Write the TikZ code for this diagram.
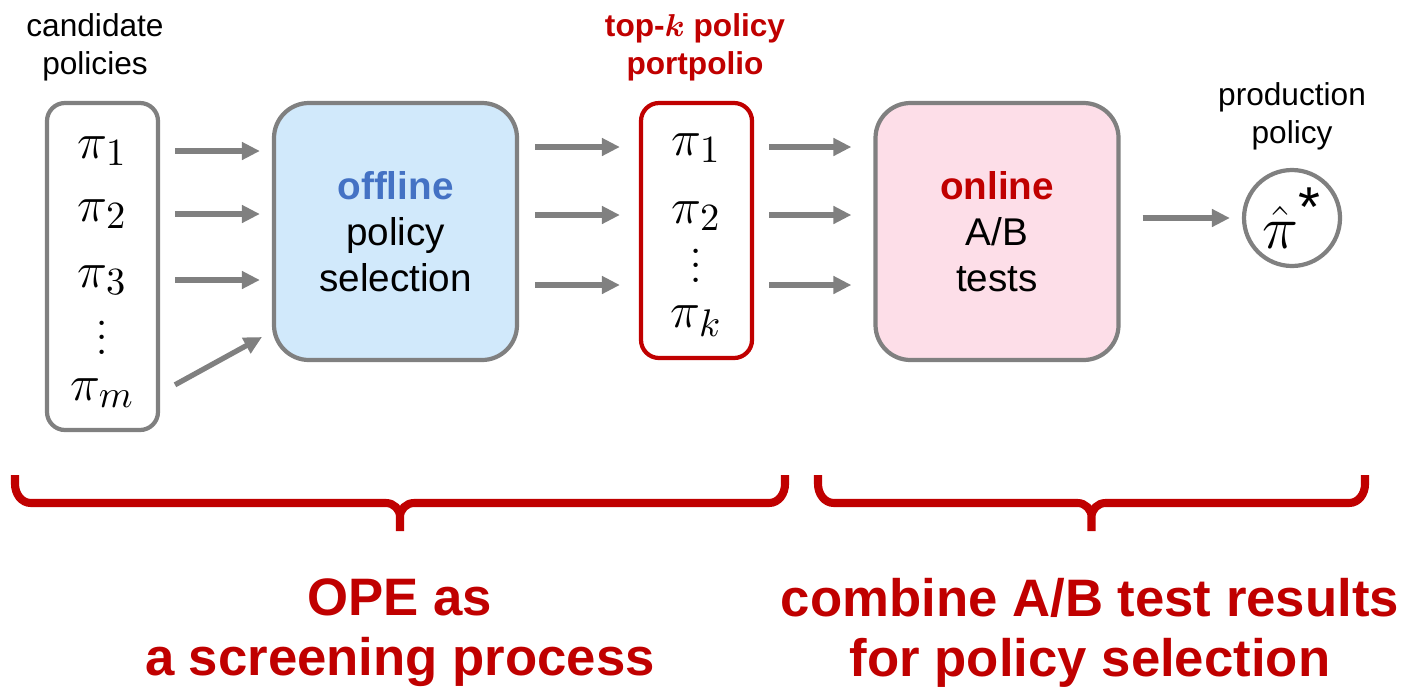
\documentclass[tikz,border=0pt]{standalone}
\usepackage{fontspec}
\setmainfont{Liberation Sans}
\usepackage{bm}
\usepackage{tikz}
\usetikzlibrary{arrows.meta,calc}
\definecolor{boxgray}{RGB}{128,128,128}
\definecolor{darkred}{RGB}{192,0,0}
\definecolor{offblue}{RGB}{68,114,196}
\definecolor{lightblue}{RGB}{209,233,251}
\definecolor{lightpink}{RGB}{253,222,232}

\begin{document}
\begin{tikzpicture}[
  policybox/.style={draw=boxgray, line width=1.2pt, rounded corners=0.18cm, minimum width=1.11cm},
  stagebox/.style={draw=boxgray, line width=1.2pt, rounded corners=0.35cm, minimum width=2.43cm, minimum height=2.57cm, align=center, font=\fontsize{11}{13}\selectfont},
  pol/.style={font=\fontsize{15}{18}\selectfont, inner sep=0pt},
  caption/.style={align=center, font=\fontsize{9}{10.8}\selectfont},
  arr/.style={-{Triangle[length=0.18cm,width=0.17cm]}, draw=boxgray, line width=1.5pt},
  redbrace/.style={draw=darkred, line width=2.3pt},
  summary/.style={align=center, text=darkred, font=\fontsize{15}{17}\selectfont\bfseries}]
  \useasboundingbox (0,0) rectangle (14.07,6.89);

  % candidate policies
  \draw (0.95,6.42) node[caption] (candlabel) {candidate\\policies};
  \draw (1.025,4.225) node[policybox, minimum height=3.27cm] (cand) {};
  \draw (1.025,5.38) node[pol] (c1) {$\pi_1$};
  \draw (1.025,4.75) node[pol] (c2) {$\pi_2$};
  \draw (1.025,4.09) node[pol] (c3) {$\pi_3$};
  \draw (1.025,3.35) node[pol] (cdots) {\fontfamily{lmr}\selectfont\smash{$\vdots$}};
  \draw (1.025,2.96) node[pol] (cm) {$\pi_m$};

  % offline selection
  \draw (3.955,4.575) node[stagebox, fill=lightblue] (offline) {\textcolor{offblue}{\textbf{offline}}\\policy\\selection};

  % top-k portfolio
  \draw (6.95,6.42) node[caption, text=darkred, font=\fontsize{9}{10.8}\selectfont\bfseries] (topklabel) {top-$\bm{k}$ policy\\portpolio};
  \draw (6.965,4.585) node[policybox, draw=darkred, minimum height=2.55cm] (topk) {};
  \draw (6.965,5.41) node[pol] (k1) {$\pi_1$};
  \draw (6.965,4.73) node[pol] (k2) {$\pi_2$};
  \draw (6.965,4.07) node[pol] (kdots) {\fontfamily{lmr}\selectfont\smash{$\vdots$}};
  \draw (6.965,3.68) node[pol] (kk) {$\pi_k$};

  % online tests
  \draw (9.97,4.575) node[stagebox, fill=lightpink] (online) {\textcolor{darkred}{\textbf{online}}\\A/B\\tests};

  % production policy
  \draw (12.92,5.73) node[caption] (prodlabel) {production\\policy};
  \draw (12.92,4.71) node[circle, draw=boxgray, line width=1.2pt, minimum size=0.96cm, inner sep=0pt, font=\fontsize{18}{20}\selectfont] (prod) {$\hat{\pi}^{\mbox{\fontsize{16}{16}\selectfont *}}$};

  \coordinate (r1) at (0,5.42);
  \coordinate (r2) at (0,4.74);
  \coordinate (r3) at (0,4.04);
  \coordinate (offin) at (2.62,3.52);

  \draw[arr, shorten <=0.15cm, shorten >=0.12cm] (cand.east |- c1) -- (offline.west |- c1);
  \draw[arr, shorten <=0.15cm, shorten >=0.12cm] (cand.east |- c2) -- (offline.west |- c2);
  \draw[arr, shorten <=0.15cm, shorten >=0.12cm] (cand.east |- c3) -- (offline.west |- c3);
  \draw[arr, shorten <=0.17cm] (cand.east |- cm) -- (offin);
  \draw[arr, shorten <=0.16cm, shorten >=0.19cm] (offline.east |- r1) -- (topk.west |- r1);
  \draw[arr, shorten <=0.16cm, shorten >=0.19cm] (offline.east |- r2) -- (topk.west |- r2);
  \draw[arr, shorten <=0.16cm, shorten >=0.19cm] (offline.east |- r3) -- (topk.west |- r3);
  \draw[arr, shorten <=0.15cm, shorten >=0.22cm] (topk.east |- r1) -- (online.west |- r1);
  \draw[arr, shorten <=0.15cm, shorten >=0.22cm] (topk.east |- r2) -- (online.west |- r2);
  \draw[arr, shorten <=0.15cm, shorten >=0.22cm] (topk.east |- r3) -- (online.west |- r3);
  \draw[arr, shorten <=0.22cm, shorten >=0.12cm] (online.east |- prod) -- (prod);

  % braces and summaries
  \coordinate (b1l) at (0.15,2.14);
  \coordinate (b1m) at (4.0,2.14);
  \coordinate (b1r) at (7.85,2.14);
  \coordinate (b2l) at (8.18,2.14);
  \coordinate (b2m) at (10.915,2.14);
  \coordinate (b2r) at (13.65,2.14);
  \draw[redbrace] (b1l) -- ++(0,-0.09) to[out=-90,in=180] ++(0.16,-0.19)
    -- ($(b1m)+(-0.14,-0.28)$) to[out=0,in=90] ($(b1m)+(0,-0.42)$) -- ($(b1m)+(0,-0.56)$)
    (b1r) -- ++(0,-0.09) to[out=-90,in=0] ++(-0.16,-0.19)
    -- ($(b1m)+(0.14,-0.28)$) to[out=180,in=90] ($(b1m)+(0,-0.42)$);
  \draw[redbrace] (b2l) -- ++(0,-0.09) to[out=-90,in=180] ++(0.16,-0.19)
    -- ($(b2m)+(-0.14,-0.28)$) to[out=0,in=90] ($(b2m)+(0,-0.42)$) -- ($(b2m)+(0,-0.56)$)
    (b2r) -- ++(0,-0.09) to[out=-90,in=0] ++(-0.16,-0.19)
    -- ($(b2m)+(0.14,-0.28)$) to[out=180,in=90] ($(b2m)+(0,-0.42)$);
  \draw (4.0,0.56) node[summary] (ope) {OPE as\\a screening process};
  \draw (10.9,0.56) node[summary] (combine) {combine A/B test results\\for policy selection};
\end{tikzpicture}
\end{document}
